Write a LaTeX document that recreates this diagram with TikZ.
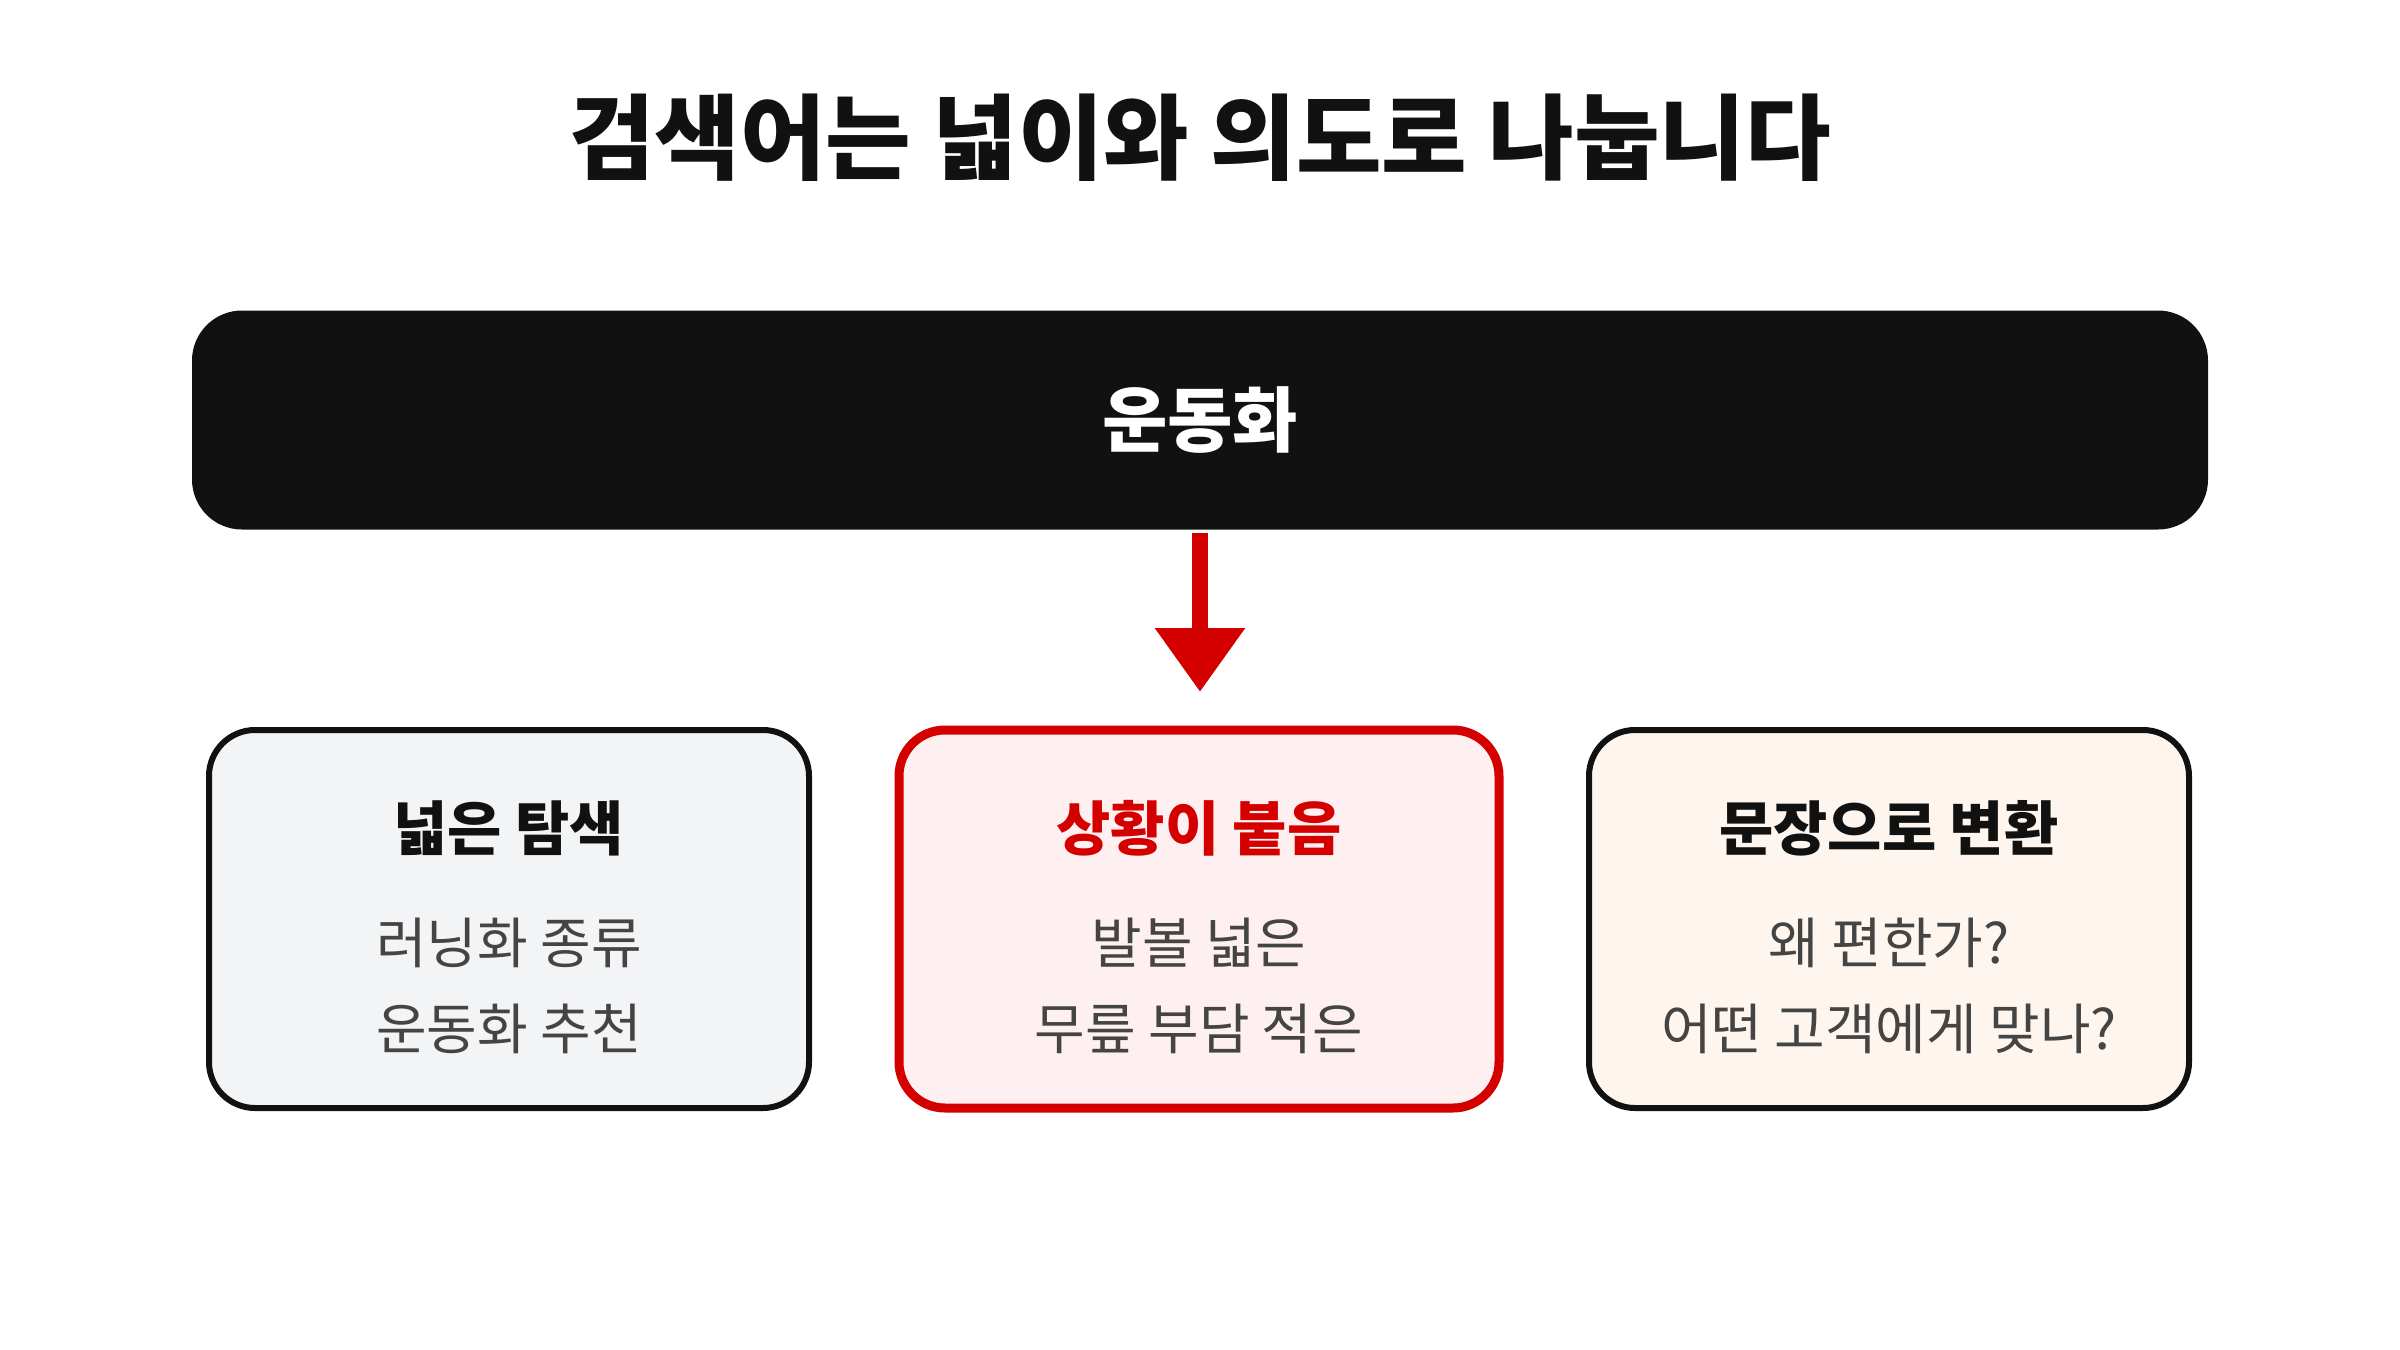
\documentclass[tikz,border=0pt]{standalone}
\usepackage{fontspec}
\setmainfont{Noto Sans CJK KR}
\usetikzlibrary{arrows.meta, positioning}
\definecolor{inkblack}{HTML}{111111}
\definecolor{accentred}{HTML}{D40000}
\definecolor{bodygray}{HTML}{444444}
\definecolor{greyfill}{HTML}{F3F4F6}
\definecolor{pinkfill}{HTML}{FEF0F0}
\definecolor{creamfill}{HTML}{FEF6EE}

\begin{document}
\begin{tikzpicture}[x=0.5pt, y=-0.5pt,
  card/.style={rectangle, rounded corners=23pt, draw=inkblack, line width=3pt,
               minimum width=300pt, minimum height=189pt},
  cardhead/.style={font=\fontsize{29.5}{34}\selectfont\bfseries, text=inkblack},
  cardbody/.style={font=\fontsize{27.5}{43}\selectfont, text=bodygray, align=center},
  flow/.style={-{Triangle[width=43pt, length=32pt]}, line width=8pt, color=accentred}
]
  \useasboundingbox (0,0) rectangle (2400,1350);
  \node[font=\fontsize{46.5}{56}\selectfont\bfseries, text=inkblack] (title) at (1200,138)
    {검색어는 넓이와 의도로 나눕니다};
  % query bar
  \node[rectangle, rounded corners=25pt, fill=inkblack, minimum width=1008pt,
        minimum height=109.5pt, text=white, font=\fontsize{35.5}{40}\selectfont\bfseries]
        (query) at (1200,420) {운동화};
  \coordinate (tip) at (1200,692);
  \draw[flow] ([yshift=-1.5pt]query.south) -- (tip);
  % three cards
  \node[card, fill=greyfill] (broad) at (509,919) {};
  \node[card, fill=pinkfill, draw=accentred, line width=4.5pt] (context) at (1199,919) {};
  \node[card, fill=creamfill] (sentence) at (1889,919) {};
  \node[cardhead] (broadhead) at (509,828) {넓은 탐색};
  \node[cardhead, text=accentred] (contexthead) at (1199,828) {상황이 붙음};
  \node[cardhead] (sentencehead) at (1889,828) {문장으로 변환};
  \node[cardbody] (broadbody) at (509,986) {러닝화 종류\\운동화 추천};
  \node[cardbody] (contextbody) at (1199,986) {발볼 넓은\\무릎 부담 적은};
  \node[cardbody] (sentencebody) at (1889,986) {왜 편한가?\\어떤 고객에게 맞나?};
\end{tikzpicture}
\end{document}
